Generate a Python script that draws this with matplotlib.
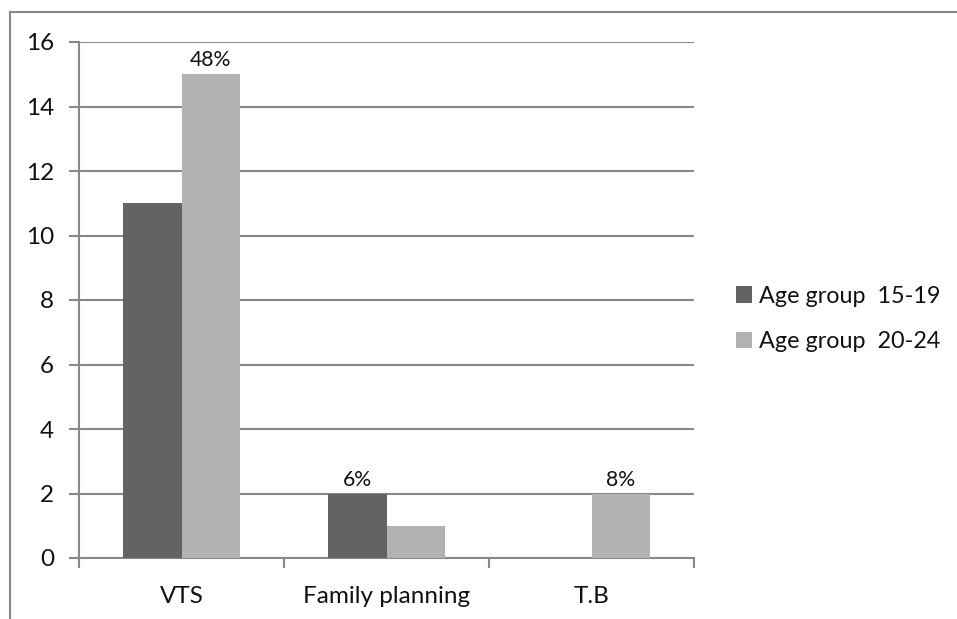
import matplotlib.pyplot as plt
from matplotlib.lines import Line2D
import numpy as np

plt.rcParams['font.family'] = ['Lato', 'DejaVu Sans']

categories = ['VTS', 'Family planning', 'T.B']
age_15_19 = [11, 2, 0]
age_20_24 = [15, 1, 2]
series_names = ['Age group  15-19', 'Age group  20-24']
# percentage labels: (category index, series index, text)
pct_labels = [(0, 1, '48%'), (1, 0, '6%'), (2, 1, '8%')]

dark = '#636363'
light = '#b2b2b2'
grid_col = '#888888'

fig = plt.figure(figsize=(9.57, 6.19), dpi=100)
ax = fig.add_axes([79/957, 1 - 558/619, (694 - 79)/957, (558 - 42)/619])

x = np.arange(len(categories))
w = 0.2875
b1 = ax.bar(x - w/2, age_15_19, w, color=dark, label=series_names[0], zorder=3)
b2 = ax.bar(x + w/2, age_20_24, w, color=light, label=series_names[1], zorder=3)

bars = [b1, b2]
for ci, si, txt in pct_labels:
    rect = bars[si][ci]
    ax.text(rect.get_x() + rect.get_width()/2, rect.get_height() + 0.12, txt,
            ha='center', va='bottom', fontsize=15.3, color='#111111')

ax.set_xlim(-0.5, 2.5)
ax.set_ylim(0, 16)
ax.set_yticks(np.arange(0, 17, 2))
ax.set_xticks(x)
ax.set_xticklabels(categories)
ax.set_xticks([-0.5, 0.5, 1.5, 2.5], minor=True)
ax.tick_params(axis='x', which='major', length=0, pad=20, labelsize=17.5,
               labelcolor='#111111')
ax.tick_params(axis='x', which='minor', length=7, width=1.5, color=grid_col)
ax.tick_params(axis='y', length=7, width=1.5, color=grid_col, labelsize=17.5,
               pad=11, labelcolor='#111111')

ax.yaxis.grid(True, color=grid_col, linewidth=1.5, zorder=0)
ax.set_axisbelow(True)
for s in ['top', 'right']:
    ax.spines[s].set_visible(False)
for s in ['left', 'bottom']:
    ax.spines[s].set_color(grid_col)
    ax.spines[s].set_linewidth(1.5)

leg = fig.legend(loc='center left', bbox_to_anchor=(715/957, 1 - 319/619),
                 frameon=False, fontsize=16.8, handlelength=0.7, handleheight=0.7,
                 handletextpad=0.3, labelspacing=1.05)
for t in leg.get_texts():
    t.set_color('#111111')

# outer chart frame
fig.add_artist(Line2D([10/957, 1.0], [1 - 12/619, 1 - 12/619], color=grid_col, linewidth=1.5))
fig.add_artist(Line2D([10/957, 10/957], [0, 1 - 12/619], color=grid_col, linewidth=1.5))

fig.savefig('out.png', dpi=100)
